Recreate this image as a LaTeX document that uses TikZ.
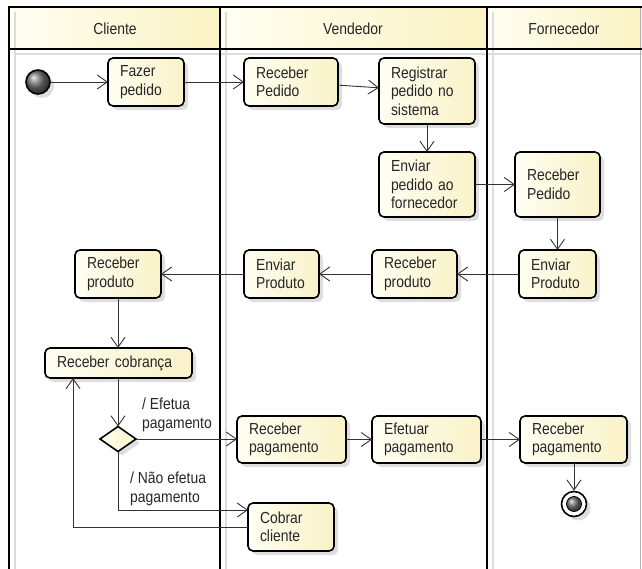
\documentclass[tikz,border=0pt]{standalone}
\usepackage{fontspec}
\setmainfont{Liberation Sans}[FakeStretch=0.87]
\usetikzlibrary{arrows.meta,shapes.geometric,shadows,calc}
\definecolor{hdrL}{HTML}{FFFEF2}
\definecolor{hdrR}{HTML}{FAF3C4}
\definecolor{boxL}{HTML}{FFFEF2}
\definecolor{boxR}{HTML}{F9F2C8}
\definecolor{ink}{HTML}{262626}
\definecolor{wire}{HTML}{333333}
\definecolor{ghost}{HTML}{DCDCDC}
\newcommand\actbox[6]{%
  \node[act, minimum width={#4-#2}, minimum height={#5-#3}, text width={#4-#2-24}]
    (#1) at ({(#2+#4)/2},{(#3+#5)/2}) {#6};}
\begin{document}
\begin{tikzpicture}[x=1pt,y=-1pt,
  txt/.style={font=\fontsize{16}{18.5}\selectfont, text=ink},
  shad/.style={drop shadow={shadow xshift=4pt, shadow yshift=-4pt, fill=black!13, opacity=1}},
  act/.style={txt, shad, draw=black, line width=1.6pt, rounded corners=5pt,
    left color=boxL, right color=boxR, inner xsep=12pt, inner ysep=1pt,
    align=left, outer sep=0pt},
  lane/.style={draw=black, line width=1.8pt},
  ghostline/.style={draw=ghost, line width=1.6pt},
  conn/.style={draw=wire, line width=0.9pt, -{Straight Barb[length=10pt,width=14pt,line width=0.9pt]}},
  lbl/.style={txt, align=left, anchor=west, inner sep=0pt}]
\useasboundingbox (0,0) rectangle (642,569);
% lane headers
\shade[left color=hdrL, right color=hdrR] (9,7) rectangle (220,49);
\shade[left color=hdrL, right color=hdrR] (220,7) rectangle (487,49);
\shade[left color=hdrL, right color=hdrR] (487,7) rectangle (642,49);
% ghost (shadow) lines of the lanes
\path[ghostline] (15,12) -- (15,569);
\path[ghostline] (226,12) -- (226,569);
\path[ghostline] (493,12) -- (493,569);
\path[ghostline] (15,54) -- (642,54);
\draw[black!30, line width=1pt] (640.5,7) -- (640.5,569);
% lane frame
\path[lane] (9,569) -- (9,7) -- (642,7);
\path[lane] (9,49) -- (642,49);
\path[lane] (220,7) -- (220,569);
\path[lane] (487,7) -- (487,569);
\node[txt] (hC) at (115,29) {Cliente};
\node[txt] (hV) at (353,29) {Vendedor};
\node[txt] (hF) at (564,29) {Fornecedor};
% initial and final nodes
\node[circle, shad, draw=black, line width=1.6pt, minimum size=24pt, inner sep=0pt, ball color=black!55] (start) at (38,82) {};
\node[circle, shad, draw=black, line width=1.6pt, minimum size=25pt, inner sep=0pt, fill=white] (end) at (574,504) {};
\node[circle, draw=black, line width=0.8pt, minimum size=15pt, inner sep=0pt, ball color=black!55] (endin) at (end.center) {};
% actions
\actbox{fazer}{108}{58}{184}{106}{Fazer\\pedido}
\actbox{recped}{244}{58}{338}{106}{Receber\\Pedido}
\actbox{registrar}{379}{58}{475}{124}{Registrar\\pedido no\\sistema}
\actbox{enviarped}{379}{152}{475}{217}{Enviar\\pedido ao\\fornecedor}
\actbox{recpedF}{515}{152}{600}{217}{Receber\\Pedido}
\actbox{envprodF}{519}{250}{596}{298}{Enviar\\Produto}
\actbox{recprodV}{372}{250}{457}{298}{Receber\\produto}
\actbox{envprodV}{244}{250}{319}{298}{Enviar\\Produto}
\actbox{recprodC}{75}{250}{161}{298}{Receber\\produto}
\actbox{cobranca}{45}{348}{192}{378}{Receber cobrança}
\actbox{recpagV}{237}{416}{346}{463}{Receber\\pagamento}
\actbox{efetuar}{372}{416}{481}{463}{Efetuar\\pagamento}
\actbox{recpagF}{520}{416}{627}{463}{Receber\\pagamento}
\actbox{cobrar}{248}{503}{334}{551}{Cobrar\\cliente}
% decision
\node[diamond, shad, draw=black, line width=1.6pt, left color=boxL, right color=boxR, minimum width=36pt, minimum height=25pt, inner sep=0pt, outer sep=0pt] (dec) at (118,439) {};
% connectors
\draw[conn] (start) -- (fazer);
\draw[conn] (fazer) -- (recped);
\draw[conn] (recped) -- (registrar);
\draw[conn] (registrar) -- (enviarped);
\draw[conn] (enviarped) -- (recpedF);
\draw[conn] (recpedF) -- (envprodF);
\draw[conn] (envprodF) -- (recprodV);
\draw[conn] (recprodV) -- (envprodV);
\draw[conn] (envprodV) -- (recprodC);
\draw[conn] (recprodC.south) -- (recprodC.south |- cobranca.north);
\draw[conn] (dec.north |- cobranca.south) -- (dec.north);
\draw[conn] (dec.east) -- (dec.east -| recpagV.west);
\draw[conn] (dec.south) |- ([yshift=17pt]cobrar.west);
\draw[conn] (cobrar.west) -| ([xshift=28pt]cobranca.south west);
\draw[conn] (recpagV) -- (efetuar);
\draw[conn] (efetuar) -- (recpagF);
\draw[conn] (recpagF.south -| end.north) -- (end.north);
% guards
\node[lbl] (g1) at (142,415) {/ Efetua\\pagamento};
\node[lbl] (g2) at (130,489) {/ Não efetua\\pagamento};
\end{tikzpicture}
\end{document}
